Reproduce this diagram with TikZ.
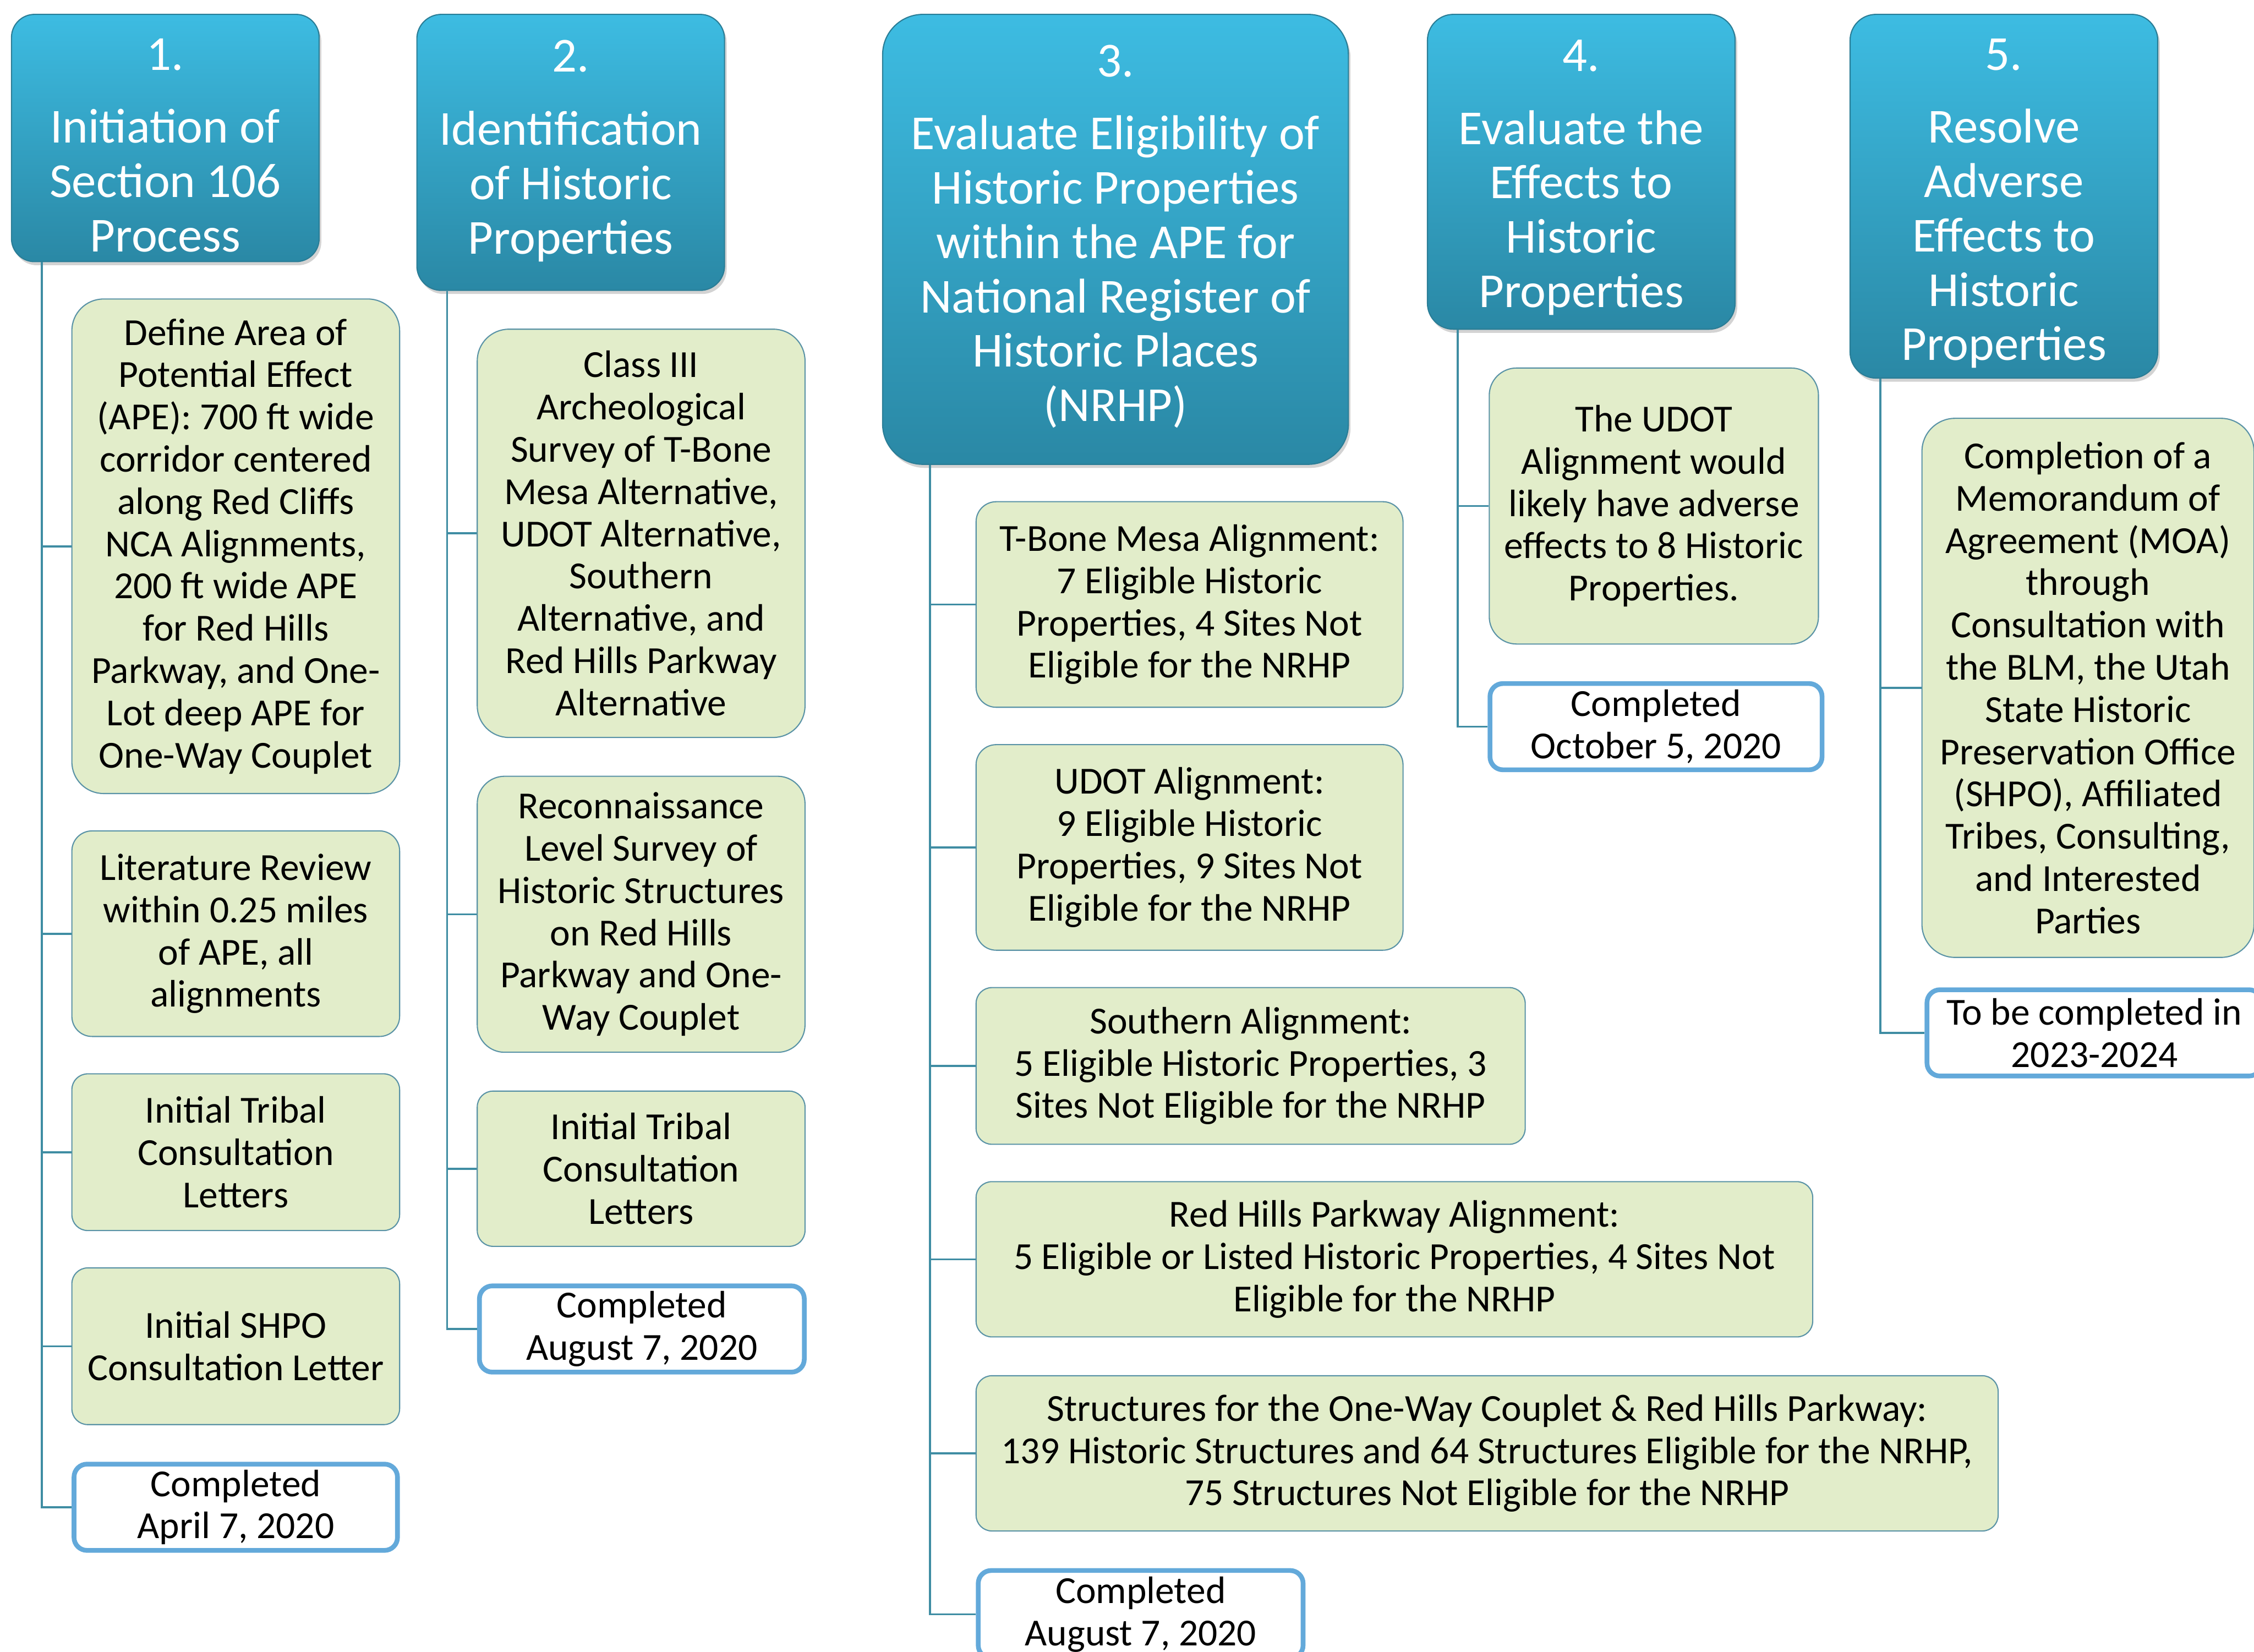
\documentclass[tikz,border=0pt]{standalone}
\usepackage{fontspec}
\setmainfont{Carlito}
\usetikzlibrary{shadows}
\definecolor{hdtop}{HTML}{3DBCE2}
\definecolor{hdbot}{HTML}{2A88A5}
\definecolor{hdline}{HTML}{2A7D96}
\definecolor{gfill}{HTML}{E2EDCA}
\definecolor{gline}{HTML}{5A93A6}
\definecolor{cline}{HTML}{63A9DA}
\definecolor{conncol}{HTML}{3F8DA3}
\tikzset{
 hdr/.style={draw=hdline, line width=0.8pt, top color=hdtop, bottom color=hdbot,
   inner sep=0pt,
   drop shadow={opacity=0.35, shadow xshift=1.5pt, shadow yshift=-2.5pt}},
 htext/.style={text=white, align=center, inner sep=0pt, font=\fontsize{34}{37.8}\selectfont},
 gbox/.style={draw=gline, line width=0.8pt, fill=gfill, align=center, inner sep=0pt,
   font=\fontsize{26.6}{29.4}\selectfont},
 cbox/.style={draw=cline, line width=3.3pt, fill=white, align=center, inner sep=0pt,
   rounded corners=9pt, font=\fontsize{26.6}{29.4}\selectfont},
 conn/.style={draw=conncol, line width=1.4pt},
}
\begin{document}
\begin{tikzpicture}[x=1pt, y=-1pt]
\useasboundingbox (0,0) rectangle (1568,1149);
\clip (0,0) rectangle (1568,1149);

% Column 1
\node[hdr, rounded corners=16pt, minimum width=214pt, minimum height=172pt,
  label={[htext, yshift=-5pt]center:{1.\\[13pt]Initiation of\\Section 106\\Process}}] (h1) at (115,96) {};
\node[gbox, rounded corners=22pt, minimum width=228pt, minimum height=344pt] (a1) at (164,380)
  {Define Area of\\Potential Effect\\(APE): 700 ft wide\\corridor centered\\along Red Cliffs\\NCA Alignments,\\200 ft wide APE\\for Red Hills\\Parkway, and One-\\Lot deep APE for\\One-Way Couplet};
\node[gbox, rounded corners=14pt, minimum width=228pt, minimum height=143pt] (a2) at (164,649.5)
  {Literature Review\\within 0.25 miles\\of APE, all\\alignments};
\node[gbox, rounded corners=11pt, minimum width=228pt, minimum height=109pt] (a3) at (164,801.5)
  {Initial Tribal\\Consultation\\Letters};
\node[gbox, rounded corners=11pt, minimum width=228pt, minimum height=109pt] (a4) at (164,936.5)
  {Initial SHPO\\Consultation Letter};
\node[cbox, minimum width=225pt, minimum height=60pt] (c1) at (164,1048.5)
  {Completed\\April 7, 2020};
\coordinate (s1) at ([xshift=-86pt]h1.south);
\draw[conn] (s1) |- (a1.west);
\draw[conn] (s1) |- (a2.west);
\draw[conn] (s1) |- (a3.west);
\draw[conn] (s1) |- (a4.west);
\draw[conn] (s1) |- (c1.west);

% Column 2
\node[hdr, rounded corners=17pt, minimum width=214pt, minimum height=192pt,
  label={[htext, yshift=1pt]center:{2.\\[13pt]Identification\\of Historic\\Properties}}] (h2) at (397,106) {};
\node[gbox, rounded corners=22pt, minimum width=228pt, minimum height=284pt] (b1) at (446,371)
  {Class III\\Archeological\\Survey of T-Bone\\Mesa Alternative,\\UDOT Alternative,\\Southern\\Alternative, and\\Red Hills Parkway\\Alternative};
\node[gbox, rounded corners=19pt, minimum width=228pt, minimum height=192pt] (b2) at (446,636)
  {Reconnaissance\\Level Survey of\\Historic Structures\\on Red Hills\\Parkway and One-\\Way Couplet};
\node[gbox, rounded corners=11pt, minimum width=228pt, minimum height=108pt] (b3) at (446,813)
  {Initial Tribal\\Consultation\\Letters};
\node[cbox, minimum width=226pt, minimum height=60pt] (c2) at (446.5,924.5)
  {Completed\\August 7, 2020};
\coordinate (s2) at ([xshift=-86pt]h2.south);
\draw[conn] (s2) |- (b1.west);
\draw[conn] (s2) |- (b2.west);
\draw[conn] (s2) |- (b3.west);
\draw[conn] (s2) |- (c2.west);

% Column 3
\node[hdr, rounded corners=28pt, minimum width=324pt, minimum height=313pt,
  label={[htext, yshift=2pt]center:{3.\\[13pt]Evaluate Eligibility of\\Historic Properties\\within the APE for\\National Register of\\Historic Places\\(NRHP)}}] (h3) at (776,166.5) {};
\node[gbox, rounded corners=14pt, minimum width=297pt, minimum height=143pt] (d1) at (827.5,420.5)
  {T-Bone Mesa Alignment:\\7 Eligible Historic\\Properties, 4 Sites Not\\Eligible for the NRHP};
\node[gbox, rounded corners=14pt, minimum width=297pt, minimum height=143pt] (d2) at (827.5,589.5)
  {UDOT Alignment:\\9 Eligible Historic\\Properties, 9 Sites Not\\Eligible for the NRHP};
\node[gbox, rounded corners=11pt, minimum width=382pt, minimum height=109pt] (d3) at (870,741.5)
  {Southern Alignment:\\5 Eligible Historic Properties, 3\\Sites Not Eligible for the NRHP};
\node[gbox, rounded corners=11pt, minimum width=582pt, minimum height=108pt] (d4) at (970,876)
  {Red Hills Parkway Alignment:\\5 Eligible or Listed Historic Properties, 4 Sites Not\\Eligible for the NRHP};
\node[gbox, rounded corners=11pt, minimum width=711pt, minimum height=108pt] (d5) at (1034.5,1011)
  {Structures for the One-Way Couplet \& Red Hills Parkway:\\139 Historic Structures and 64 Structures Eligible for the NRHP,\\75 Structures Not Eligible for the NRHP};
\node[cbox, minimum width=226pt, minimum height=61pt] (c3) at (793.5,1123)
  {Completed\\August 7, 2020};
\coordinate (s3) at ([xshift=-129pt]h3.south);
\draw[conn] (s3) |- (d1.west);
\draw[conn] (s3) |- (d2.west);
\draw[conn] (s3) |- (d3.west);
\draw[conn] (s3) |- (d4.west);
\draw[conn] (s3) |- (d5.west);
\draw[conn] (s3) |- (c3.west);

% Column 4
\node[hdr, rounded corners=18pt, minimum width=214pt, minimum height=219pt,
  label={[htext, yshift=-4pt]center:{4.\\[13pt]Evaluate the\\Effects to\\Historic\\Properties}}] (h4) at (1100,119.5) {};
\node[gbox, rounded corners=19pt, minimum width=229pt, minimum height=192pt] (e1) at (1150.5,352)
  {The UDOT\\Alignment would\\likely have adverse\\effects to 8 Historic\\Properties.};
\node[cbox, minimum width=231pt, minimum height=60pt] (c4) at (1152,505.5)
  {Completed\\October 5, 2020};
\coordinate (s4) at ([xshift=-86pt]h4.south);
\draw[conn] (s4) |- (e1.west);
\draw[conn] (s4) |- (c4.west);

% Column 5
\node[hdr, rounded corners=18pt, minimum width=214pt, minimum height=253pt,
  label={[htext, yshift=-5pt]center:{5.\\[13pt]Resolve\\Adverse\\Effects to\\Historic\\Properties}}] (h5) at (1394,136.5) {};
\node[gbox, rounded corners=23pt, minimum width=231pt, minimum height=375pt] (f1) at (1452.5,478.5)
  {Completion of a\\Memorandum of\\Agreement (MOA)\\through\\Consultation with\\the BLM, the Utah\\State Historic\\Preservation Office\\(SHPO), Affiliated\\Tribes, Consulting,\\and Interested\\Parties};
\node[cbox, minimum width=233pt, minimum height=60pt] (c5) at (1457,718.5)
  {To be completed in\\2023-2024};
\coordinate (s5) at ([xshift=-86pt]h5.south);
\draw[conn] (s5) |- (f1.west);
\draw[conn] (s5) |- (c5.west);
\end{tikzpicture}
\end{document}
